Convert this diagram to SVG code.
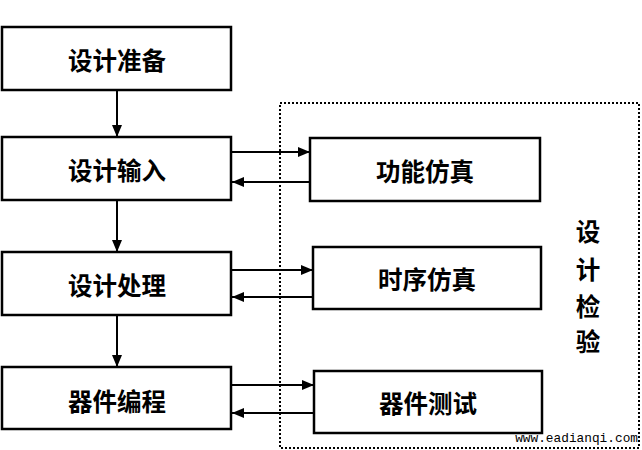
<svg xmlns="http://www.w3.org/2000/svg" width="642" height="450" viewBox="0 0 642 450">
<defs>
<marker id="ah" markerWidth="12" markerHeight="10" refX="12" refY="5" orient="auto" markerUnits="userSpaceOnUse">
<path d="M0,0 L12,5 L0,10 Z" fill="#000"/>
</marker>
<style>
.box{fill:#fff;stroke:#000;stroke-width:2.5}
.t{font-family:"Noto Sans CJK SC","Noto Sans",sans-serif;font-weight:bold;font-size:24.5px;text-anchor:middle;dominant-baseline:central;fill:#000}
.c{stroke:#000;stroke-width:2;fill:none;marker-end:url(#ah)}
</style>
</defs>
<rect width="642" height="450" fill="#fff"/>
<rect id="check" x="280" y="103" width="359" height="345" fill="none" stroke="#000" stroke-width="2" stroke-dasharray="2,2"/>
<g id="n1"><rect class="box" x="2" y="27" width="229" height="63"/><text class="t" x="117" y="59">设计准备</text></g>
<g id="n2"><rect class="box" x="2" y="137" width="229" height="63"/><text class="t" x="117" y="169">设计输入</text></g>
<g id="n3"><rect class="box" x="2" y="252" width="229" height="63"/><text class="t" x="117" y="284">设计处理</text></g>
<g id="n4"><rect class="box" x="2" y="367" width="229" height="62"/><text class="t" x="117" y="400">器件编程</text></g>
<g id="n5"><rect class="box" x="310" y="138" width="230" height="63"/><text class="t" x="425" y="170">功能仿真</text></g>
<g id="n6"><rect class="box" x="313" y="247" width="228" height="62"/><text class="t" x="427" y="278">时序仿真</text></g>
<g id="n7"><rect class="box" x="314" y="371" width="228" height="62"/><text class="t" x="428" y="402">器件测试</text></g>
<g id="label"><text class="t" x="588" y="230">设</text><text class="t" x="588" y="268">计</text><text class="t" x="588" y="305">检</text><text class="t" x="588" y="340">验</text></g>
<g id="connectors">
<line class="c" x1="117" y1="90" x2="117" y2="137"/>
<line class="c" x1="117" y1="200" x2="117" y2="252"/>
<line class="c" x1="117" y1="315" x2="117" y2="367"/>
<line class="c" x1="231" y1="152" x2="310" y2="152"/>
<line class="c" x1="310" y1="182" x2="232" y2="182"/>
<line class="c" x1="231" y1="270" x2="313" y2="270"/>
<line class="c" x1="313" y1="297" x2="232" y2="297"/>
<line class="c" x1="231" y1="385" x2="314" y2="385"/>
<line class="c" x1="314" y1="413" x2="232" y2="413"/>
</g>
<text x="638" y="442" font-family="Liberation Mono,monospace" font-size="12.8" text-anchor="end" fill="#000">www.eadianqi.com</text>
</svg>
